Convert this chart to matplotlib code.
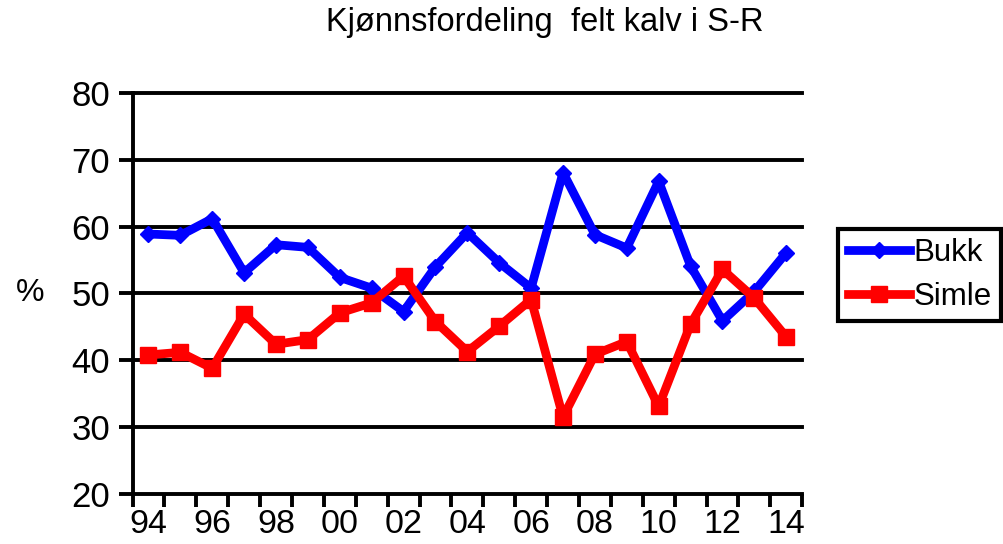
import matplotlib.pyplot as plt
import numpy as np

plt.rcParams['font.family'] = ['Liberation Sans', 'DejaVu Sans']

aar = ["94", "95", "96", "97", "98", "99", "00", "01", "02", "03", "04",
       "05", "06", "07", "08", "09", "10", "11", "12", "13", "14"]
bukk = [58.9, 58.7, 61.2, 53.1, 57.3, 56.9, 52.4, 50.8, 47.3, 54.0, 59.1,
        54.6, 50.8, 68.1, 58.8, 56.8, 66.8, 54.1, 45.9, 50.3, 56.1]
simle = [40.8, 41.2, 38.8, 46.9, 42.4, 43.1, 47.1, 48.6, 52.6, 45.8, 41.3,
         45.1, 49.1, 31.5, 40.9, 42.8, 33.1, 45.4, 53.6, 49.3, 43.5]

x = np.arange(len(aar))

fig = plt.figure(figsize=(10.04, 5.44), dpi=100)
ax = fig.add_axes([0.132, 0.092, 0.667, 0.737])

for y in [30, 40, 50, 60, 70, 80]:
    ax.axhline(y, color="black", lw=2.8, zorder=1, clip_on=False)

ax.plot(x, bukk, color="#0000ff", lw=6.3, marker="D", ms=8, label="Bukk", zorder=3)
ax.plot(x, simle, color="#ff0000", lw=6.3, marker="s", ms=12, label="Simle", zorder=3)

ax.set_xlim(-0.5, len(aar) - 0.5)
ax.set_ylim(20, 80)
ax.set_yticks([20, 30, 40, 50, 60, 70, 80])
ax.set_xticks(x[::2])
ax.set_xticklabels(aar[::2])
ax.set_xticks(np.arange(-0.5, len(aar)), minor=True)
ax.tick_params(axis="x", which="major", length=0, pad=11, labelsize=24.5)
ax.tick_params(axis="x", which="minor", length=9, width=2.8, direction="out")
ax.tick_params(axis="y", length=10, width=2.8, direction="out", pad=6, labelsize=25)

for s in ["top", "right"]:
    ax.spines[s].set_visible(False)
for s in ["left", "bottom"]:
    ax.spines[s].set_linewidth(2.8)

ax.set_ylabel("%", fontsize=23, rotation=0, labelpad=30, va="center")
fig.text(0.543, 0.958, "Kjønnsfordeling  felt kalv i S-R", fontsize=23.5, ha="center", va="center")

leg = ax.legend(loc="center left", bbox_to_anchor=(1.054, 0.546), fontsize=22.5, frameon=True,
                fancybox=False, edgecolor="black", framealpha=1, handlelength=2.0,
                handletextpad=0.1, borderpad=0.3, labelspacing=0.45, borderaxespad=0)
leg.get_frame().set_linewidth(3)

plt.savefig("out.png")
